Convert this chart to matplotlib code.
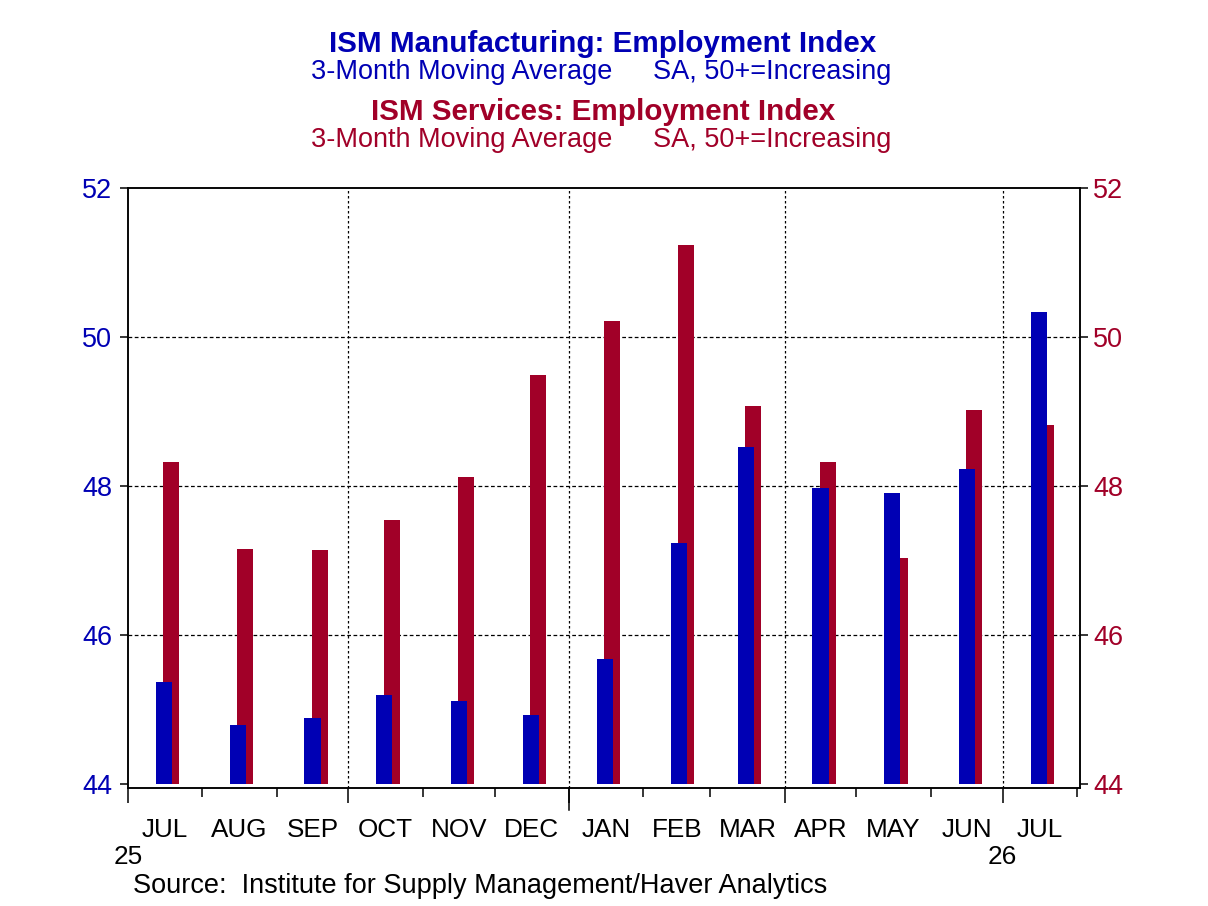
import numpy as np
import matplotlib
matplotlib.use("Agg")
import matplotlib.pyplot as plt
import matplotlib.transforms as mtransforms

plt.rcParams['font.family'] = ['Liberation Sans', 'DejaVu Sans']

# ---- data ----
month_labels = ["JUL", "AUG", "SEP", "OCT", "NOV", "DEC", "JAN", "FEB", "MAR",
                "APR", "MAY", "JUN", "JUL"]
manufacturing = [45.37, 44.79, 44.88, 45.19, 45.12, 44.92, 45.68, 47.23, 48.52,
                 47.97, 47.90, 48.23, 50.34]
services = [48.32, 47.16, 47.14, 47.54, 48.12, 49.49, 50.21, 51.24, 49.08,
            48.32, 47.03, 49.02, 48.82]
y_ticks = [44, 46, 48, 50, 52]
year_labels = ["25", "26"]

BLUE = '#0000B4'
RED = '#A10028'

origin = np.datetime64('2025-07-01')
month_starts = np.arange('2025-07', '2026-09', dtype='datetime64[M]').astype('datetime64[D]')
days = (month_starts - origin).astype(int)          # 14 boundaries
mids = (days[:-1] + days[1:]) / 2.0
starts = days[:-1]

fig = plt.figure(figsize=(12.08, 9.06), dpi=100)
ax = fig.add_axes([128/1208, 1-788/906, (1080-128)/1208, (788-188)/906])

ax.bar(starts + 18, np.array(services) - 44, bottom=44, width=6.7, color=RED, zorder=2, linewidth=0)
ax.bar(starts + 15, np.array(manufacturing) - 44, bottom=44, width=6.7, color=BLUE, zorder=3, linewidth=0)

ax.set_ylim(44 - 4/74.5, 52)
ax.set_xlim(0, days[-1] + 1.3)

# grid
for v in [46, 48, 50]:
    ax.axhline(v, color='black', linewidth=0.9, linestyle=(0, (3, 2)), zorder=1)
month_num = month_starts.astype('datetime64[M]').astype(int) % 12 + 1
quarter_mask = np.isin(month_num, [1, 4, 7, 10])
for d, m in zip(days, month_num):
    if m in (1, 4, 7, 10) and 0 < d < days[-1]:
        ax.axvline(d, color='black', linewidth=0.9, linestyle=(0, (2, 2)), zorder=1)

# x ticks
ax.set_xticks(days[quarter_mask])
ax.set_xticks(days[~quarter_mask], minor=True)
ax.tick_params(axis='x', which='major', direction='out', length=11, width=1.1, labelbottom=False)
ax.tick_params(axis='x', which='minor', direction='out', length=6.5, width=1.1, labelbottom=False)
trans = mtransforms.blended_transform_factory(ax.transData, ax.transAxes)
for d, m in zip(days, month_num):
    if m == 1:
        ax.plot([d, d], [0, -22/600], transform=trans, color='black', linewidth=1.1, clip_on=False)

for x, lab in zip(mids, month_labels):
    ax.text(x, -0.07, lab, transform=trans, ha='center', va='center', fontsize=18.8, color='black')
year_pos = [d for d, m in zip(days, month_num) if m == 7][:2]
for x, lab in zip(year_pos, year_labels):
    ax.text(x, -0.115, lab, transform=trans, ha='center', va='center', fontsize=18.8, color='black')

# y ticks
ax.set_yticks(y_ticks)
ax.tick_params(axis='y', direction='out', length=6, width=1.1, labelsize=19.5, labelcolor=BLUE, pad=5.5)
ax2 = ax.twinx()
ax2.set_ylim(ax.get_ylim())
ax2.set_yticks(y_ticks)
ax2.tick_params(axis='y', direction='out', length=6, width=1.1, labelsize=19.5, labelcolor=RED, pad=3.5)

for a in (ax, ax2):
    for s in a.spines.values():
        s.set_linewidth(1.1)

# titles
fig.text(603/1208, 1-44/906, "ISM Manufacturing: Employment Index", ha='center', va='center',
         fontsize=21.3, fontweight='bold', color=BLUE)
fig.text(612/1208, 1-72/906, "3-Month Moving Average", ha='right', va='center', fontsize=19.5, color=BLUE)
fig.text(653/1208, 1-72/906, "SA, 50+=Increasing", ha='left', va='center', fontsize=19.5, color=BLUE)
fig.text(603/1208, 1-112/906, "ISM Services: Employment Index", ha='center', va='center',
         fontsize=21.3, fontweight='bold', color=RED)
fig.text(612/1208, 1-140/906, "3-Month Moving Average", ha='right', va='center', fontsize=19.5, color=RED)
fig.text(653/1208, 1-140/906, "SA, 50+=Increasing", ha='left', va='center', fontsize=19.5, color=RED)

fig.text(133/1208, 1-886/906, "Source:  Institute for Supply Management/Haver Analytics",
         ha='left', va='center', fontsize=19.5, color='black')

fig.savefig('out.png', dpi=100)
